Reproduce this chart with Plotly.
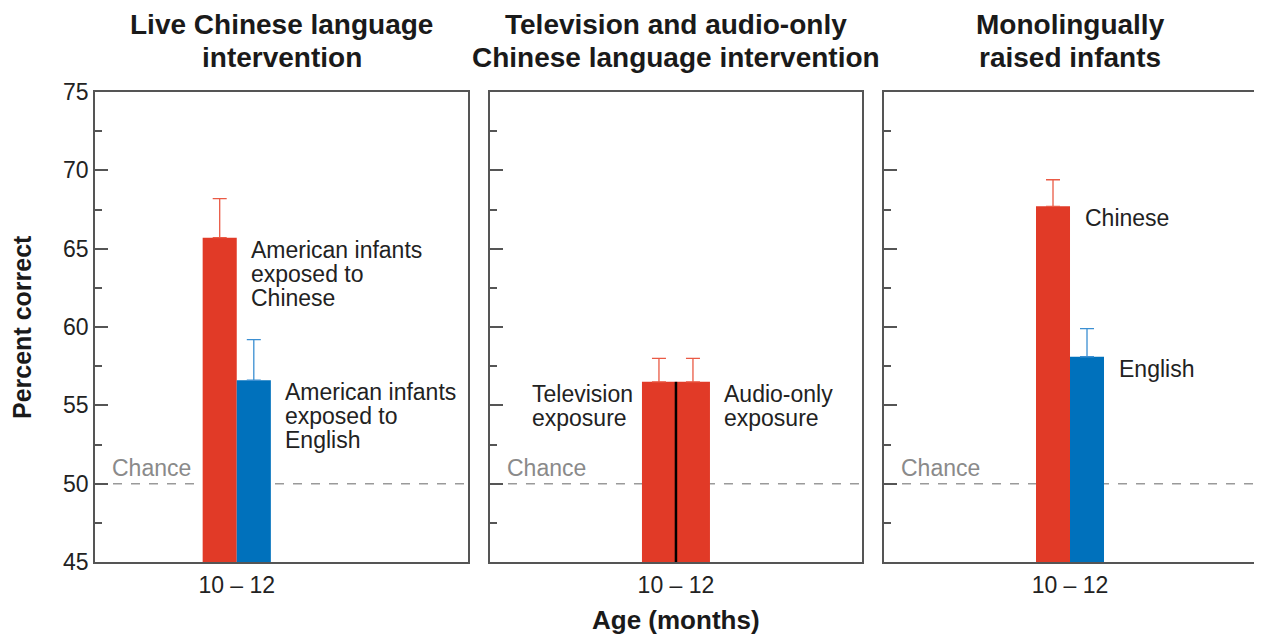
import plotly.graph_objects as go
from plotly.subplots import make_subplots

# data
age = ["10 – 12"]
live_chinese = [65.7]
live_chinese_err = [2.5]
live_english = [56.6]
live_english_err = [2.6]
tv_exposure = [56.5]
tv_exposure_err = [1.5]
audio_exposure = [56.5]
audio_exposure_err = [1.5]
mono_chinese = [67.7]
mono_chinese_err = [1.7]
mono_english = [58.1]
mono_english_err = [1.8]
chance = 50

RED = "#e13a27"
RED_ERR = "#ea5a45"
BLUE = "#0071bc"
BLUE_ERR = "#3b8fd2"
FONT = "Liberation Sans, Arial, sans-serif"
TXT = 23

fig = make_subplots(rows=1, cols=3, horizontal_spacing=0.02)


def bar(x, y, err, color, ecolor, group):
    return go.Bar(
        x=x, y=y, offsetgroup=group,
        marker=dict(color=color, line=dict(width=0)),
        error_y=dict(type="data", array=err, arrayminus=[0] * len(err),
                     color=ecolor, thickness=1.3, width=7),
        showlegend=False,
    )


fig.add_trace(bar(age, live_chinese, live_chinese_err, RED, RED_ERR, "a"), row=1, col=1)
fig.add_trace(bar(age, live_english, live_english_err, BLUE, BLUE_ERR, "b"), row=1, col=1)
fig.add_trace(bar(age, tv_exposure, tv_exposure_err, RED, RED_ERR, "a"), row=1, col=2)
fig.add_trace(bar(age, audio_exposure, audio_exposure_err, RED, RED_ERR, "b"), row=1, col=2)
fig.add_trace(bar(age, mono_chinese, mono_chinese_err, RED, RED_ERR, "a"), row=1, col=3)
fig.add_trace(bar(age, mono_english, mono_english_err, BLUE, BLUE_ERR, "b"), row=1, col=3)

domains = [[0, 0.3213], [0.3402, 0.6606], [0.6796, 1.0]]
xranges = [[-1.9, 3.1], [-2.5, 2.5], [-2.5, 2.5]]
for i in range(3):
    fig.update_xaxes(
        domain=domains[i], range=xranges[i], showgrid=False, zeroline=False,
        showline=True, mirror=True, linecolor="#555", linewidth=1.5,
        ticks="", automargin=False, ticklabelstandoff=2,
        tickfont=dict(size=TXT, color="#222", family=FONT),
        row=1, col=i + 1,
    )
    fig.update_yaxes(
        range=[45, 75], dtick=5, tick0=45, showgrid=False, zeroline=False,
        showline=True, mirror=True, linecolor="#555", linewidth=1.5,
        ticks="inside", ticklen=13, tickwidth=1.5, tickcolor="#555",
        minor=dict(ticks="inside", ticklen=7, tickwidth=1.5, tickcolor="#555",
                   dtick=5, tick0=47.5),
        showticklabels=(i == 0), automargin=False,
        tickfont=dict(size=TXT, color="#222", family=FONT),
        row=1, col=i + 1,
    )
    xr = "x" if i == 0 else f"x{i + 1}"
    yr = "y" if i == 0 else f"y{i + 1}"
    fig.add_shape(type="line", xref=f"{xr} domain", yref=yr, x0=0, x1=1,
                  y0=chance, y1=chance, layer="below",
                  line=dict(color="#9a9a9a", width=1.5, dash="dash"))
    fig.add_annotation(xref=f"{xr} domain", yref=yr, x=0.04, y=chance,
                       yshift=16, xanchor="left", yanchor="middle", text="Chance",
                       showarrow=False, font=dict(size=TXT, color="#8a8a8a", family=FONT))

# divider between the television and audio-only bars
fig.add_shape(type="line", xref="x2", yref="y2", x0=0, x1=0, y0=45,
              y1=tv_exposure[0], line=dict(color="black", width=2.5))

labels = [
    ("x domain", "y", 0.413, live_chinese[0], ["American infants", "exposed to", "Chinese"]),
    ("x domain", "y", 0.504, live_english[0], ["American infants", "exposed to", "English"]),
    ("x2 domain", "y2", 0.108, tv_exposure[0], ["Television", "exposure"]),
    ("x2 domain", "y2", 0.624, audio_exposure[0], ["Audio-only", "exposure"]),
    ("x3 domain", "y3", 0.535, mono_chinese[0], ["Chinese"]),
    ("x3 domain", "y3", 0.626, mono_english[0], ["English"]),
]
for xref, yref, x, y, lines in labels:
    for k, line in enumerate(lines):
        fig.add_annotation(xref=xref, yref=yref, x=x, y=y, xanchor="left", yanchor="middle",
                           yshift=-12 - 24 * k, text=line, showarrow=False,
                           font=dict(size=TXT, color="#222", family=FONT))

titles = [
    ["Live Chinese language", "intervention"],
    ["Television and audio-only", "Chinese language intervention"],
    ["Monolingually", "raised infants"],
]
for i, lines in enumerate(titles):
    xr = "x" if i == 0 else f"x{i + 1}"
    for k, line in enumerate(lines):
        fig.add_annotation(xref=f"{xr} domain", yref="paper", x=0.5, y=1.0,
                           yshift=35 + 33 * (len(lines) - 1 - k),
                           xanchor="center", yanchor="middle", text=f"<b>{line}</b>",
                           showarrow=False, font=dict(size=28, color="#1a1a1a", family=FONT))

fig.add_annotation(xref="paper", yref="paper", x=0, xshift=-73, y=0.5, textangle=-90,
                   xanchor="center", yanchor="middle", text="<b>Percent correct</b>",
                   showarrow=False, font=dict(size=25, color="#1a1a1a", family=FONT))
fig.add_annotation(xref="paper", yref="paper", x=0.5, y=0, yshift=-58,
                   xanchor="center", yanchor="middle", text="<b>Age (months)</b>",
                   showarrow=False, font=dict(size=26, color="#1a1a1a", family=FONT))

# the page body adds an 8px margin, so the figure is sized to fit the window
fig.update_layout(
    width=1254, height=629,
    margin=dict(l=87, r=6, t=84, b=75),
    barmode="group", bargap=0.086, bargroupgap=0,
    plot_bgcolor="white", paper_bgcolor="white",
    font=dict(family=FONT),
)

fig.write_html("out.html")
